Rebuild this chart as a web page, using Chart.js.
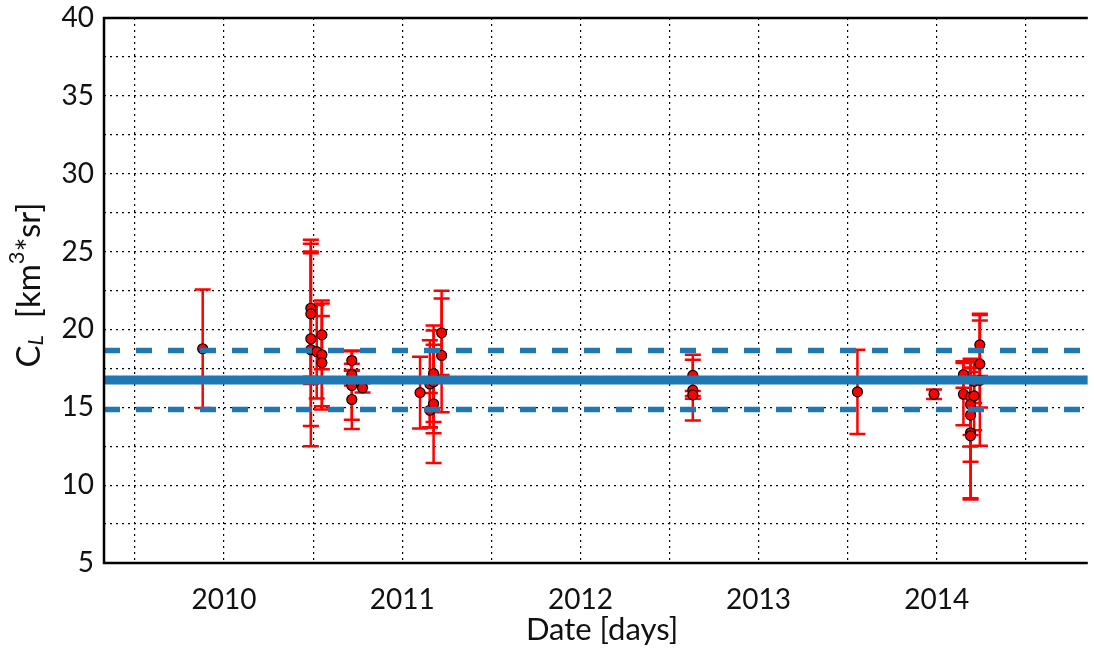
<!DOCTYPE html>
<html>
<head>
<meta charset="utf-8">
<script src="https://cdn.jsdelivr.net/npm/chart.js@4.4.1/dist/chart.umd.min.js"></script>
<style>
  html, body { margin: 0; padding: 0; background: #fff; }
  #wrap { width: 1094px; height: 650px; }
</style>
</head>
<body>
<div id="wrap"><canvas id="myChart" width="1094" height="650"></canvas></div>
<script>
// measurements (decimal year), value and +/- error
const dates = [
  2009.88,
  2010.487, 2010.487, 2010.487, 2010.487, 2010.52, 2010.549, 2010.549, 2010.549,
  2010.717, 2010.717, 2010.717, 2010.717, 2010.777,
  2011.10, 2011.155, 2011.155, 2011.176, 2011.176, 2011.176, 2011.221, 2011.221,
  2012.631, 2012.631, 2012.631,
  2013.555, 2013.985,
  2014.15, 2014.15, 2014.19, 2014.19, 2014.19, 2014.19, 2014.19, 2014.21, 2014.21,
  2014.242, 2014.242, 2014.242
];
const values = [
  18.76,
  21.36, 21.0, 19.4, 18.7, 18.57, 19.65, 18.37, 17.86,
  18.0, 17.1, 16.4, 15.5, 16.25,
  15.94, 16.5, 14.81, 17.16, 16.63, 15.22, 19.78, 18.33,
  17.05, 16.1, 15.8,
  15.99, 15.84,
  17.1, 15.84, 15.67, 15.18, 14.5, 13.36, 13.17, 15.73, 16.67,
  19.01, 17.78, 16.73
];
const errors = [
  3.8,
  4.4, 4.5, 5.6, 6.2, 3.0, 2.2, 3.3, 3.0,
  0.65, 0.7, 2.2, 1.9, 0.3,
  2.3, 2.8, 1.1, 3.1, 3.3, 3.8, 2.7, 3.65,
  1.32, 1.95, 0.25,
  2.7, 0.3,
  0.85, 2.0, 2.45, 2.7, 3.0, 4.2, 4.1, 2.2, 1.4,
  2.0, 2.8, 4.2
];

const meanCL = 16.75;
const upperCL = 18.65;
const lowerCL = 14.85;

const xMin = 2009.326, xMax = 2014.848;
const yMin = 5, yMax = 40;
const yearLabels = [2010, 2011, 2012, 2013, 2014];

const FONT = 'Lato, "DejaVu Sans", sans-serif';

const points = dates.map((d, i) => ({ x: d, y: values[i] }));
const hline = v => [{ x: xMin, y: v }, { x: xMax, y: v }];

// error bars under the points, frame and axis titles on top
const errorBars = {
  id: 'errorBars',
  beforeDatasetsDraw(chart) {
    const ctx = chart.ctx;
    const xs = chart.scales.x, ys = chart.scales.y;
    ctx.save();
    ctx.strokeStyle = 'rgb(255,0,0)';
    ctx.lineWidth = 2.5;
    dates.forEach(function(d, i) {
      const px = xs.getPixelForValue(d);
      const top = ys.getPixelForValue(values[i] + errors[i]);
      const bot = ys.getPixelForValue(values[i] - errors[i]);
      ctx.beginPath();
      ctx.moveTo(px, top); ctx.lineTo(px, bot);
      ctx.moveTo(px - 8, top); ctx.lineTo(px + 8, top);
      ctx.moveTo(px - 8, bot); ctx.lineTo(px + 8, bot);
      ctx.stroke();
    });
    ctx.restore();
  },
  afterDraw(chart) {
    const ctx = chart.ctx;
    const a = chart.chartArea;
    ctx.save();
    ctx.strokeStyle = '#000';
    ctx.lineWidth = 2.5;
    ctx.beginPath();
    ctx.moveTo(a.right, a.top); ctx.lineTo(a.left, a.top);
    ctx.lineTo(a.left, a.bottom); ctx.lineTo(a.right, a.bottom);
    ctx.stroke();

    ctx.fillStyle = '#111';
    ctx.font = '31px ' + FONT;
    ctx.textAlign = 'center';
    ctx.textBaseline = 'middle';
    ctx.fillText('Date [days]', 602, 630);

    // y title with subscript and superscript
    ctx.translate(29, 285);
    ctx.rotate(-Math.PI / 2);
    const parts = [
      { t: 'C', f: '33px ' + FONT, dy: 0 },
      { t: 'L', f: 'italic 22px ' + FONT, dy: 7 },
      { t: '  [km', f: '33px ' + FONT, dy: 0 },
      { t: '3', f: '22px ' + FONT, dy: -12 },
      { t: '*sr]', f: '33px ' + FONT, dy: 0 }
    ];
    let total = 0;
    parts.forEach(p => { ctx.font = p.f; total += ctx.measureText(p.t).width; });
    let cx = -total / 2;
    ctx.textAlign = 'left';
    parts.forEach(p => {
      ctx.font = p.f;
      ctx.fillText(p.t, cx, p.dy);
      cx += ctx.measureText(p.t).width;
    });
    ctx.restore();
  }
};

const ctx = document.getElementById('myChart').getContext('2d');
const myChart = new Chart(ctx, {
  type: 'scatter',
  data: {
    datasets: [
      {
        label: 'mean',
        type: 'line',
        data: hline(meanCL),
        borderColor: '#1f77b4',
        borderWidth: 9,
        pointRadius: 0,
        order: 0
      },
      {
        label: 'upper',
        type: 'line',
        data: hline(upperCL),
        borderColor: '#1f77b4',
        borderWidth: 5.5,
        borderDash: [16, 16],
        pointRadius: 0,
        order: 0
      },
      {
        label: 'lower',
        type: 'line',
        data: hline(lowerCL),
        borderColor: '#1f77b4',
        borderWidth: 5.5,
        borderDash: [16, 16],
        pointRadius: 0,
        order: 0
      },
      {
        label: 'C_L',
        data: points,
        backgroundColor: 'rgb(255,0,0)',
        borderColor: '#000',
        borderWidth: 1.2,
        pointRadius: 5,
        order: 1
      }
    ]
  },
  options: {
    responsive: false,
    animation: false,
    layout: { padding: { top: 18, right: 1, left: 0, bottom: 0 } },
    plugins: { legend: { display: false }, tooltip: { enabled: false } },
    scales: {
      x: {
        type: 'linear',
        min: xMin,
        max: xMax,
        afterBuildTicks(scale) {
          const t = [];
          for (let v = 2009.5; v < xMax; v += 0.5) t.push({ value: v });
          scale.ticks = t;
        },
        afterFit(scale) {
          scale.height = 87;
          scale.paddingLeft = 0;
          scale.paddingRight = 0;
        },
        grid: { color: '#000', lineWidth: 1.2, drawTicks: false },
        border: { display: false, dash: [2, 4] },
        ticks: {
          padding: 20,
          maxRotation: 0,
          autoSkip: false,
          color: '#111',
          font: { family: FONT, size: 28 },
          callback: v => (yearLabels.includes(v) ? String(v) : '')
        }
      },
      y: {
        min: yMin,
        max: yMax,
        afterBuildTicks(scale) {
          const t = [];
          for (let v = yMin; v <= yMax; v += 2.5) t.push({ value: v });
          scale.ticks = t;
        },
        afterFit(scale) {
          scale.width = 104;
          scale.paddingTop = 0;
          scale.paddingBottom = 0;
        },
        grid: { color: '#000', lineWidth: 1.2, drawTicks: false },
        border: { display: false, dash: [2, 4] },
        ticks: {
          padding: 10,
          autoSkip: false,
          color: '#111',
          font: { family: FONT, size: 28 },
          callback: v => (v % 5 === 0 ? String(v) : '')
        }
      }
    }
  },
  plugins: [errorBars]
});
</script>
</body>
</html>
